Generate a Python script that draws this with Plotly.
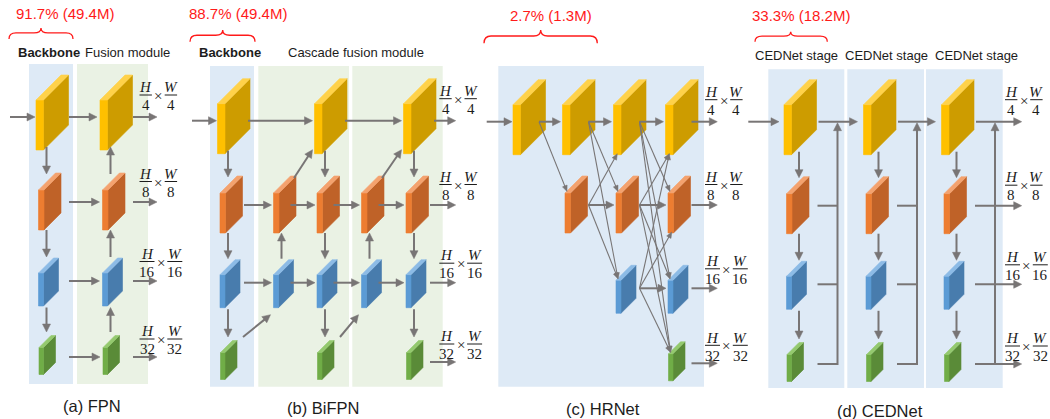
import math
import plotly.graph_objects as go

# ---------------- data ----------------
panel_captions = ["(a) FPN", "(b) BiFPN", "(c) HRNet", "(d) CEDNet"]
param_share = [91.7, 88.7, 2.7, 33.3]          # % of parameters
param_millions = [49.4, 49.4, 1.3, 18.2]       # parameters (M)
scale_denoms = [4, 8, 16, 32]                  # H/k x W/k
fpn_columns = [[0, 1, 2, 3], [0, 1, 2, 3]]
bifpn_columns = [[0, 1, 2, 3], [1, 2], [0, 1, 2, 3], [1, 2], [0, 1, 2, 3]]
hrnet_columns = [[0], [0, 1], [0, 1, 2], [0, 1, 2, 3]]
cednet_columns = [[0, 1, 2, 3], [0, 1, 2, 3], [0, 1, 2, 3]]
fpn_titles = ["Backbone", "Fusion module"]
bifpn_titles = ["Backbone", "Cascade fusion module"]
cednet_titles = ["CEDNet stage", "CEDNet stage", "CEDNet stage"]

# ---------------- style / layout constants ----------------
W, H = 1050, 419
FRONT = ["#FFC000", "#ED7D31", "#5B9BD5", "#70AD47"]
SIDE = ["#CD9C00", "#BF6228", "#487CAD", "#5A8B38"]
TOP = ["#FFD24A", "#F4A26E", "#8CBBE6", "#94C96E"]
BLUE_BG = "#DEEAF6"
GREEN_BG = "#EAF2E4"
GRAY = "#787575"
TXT = "#1c1c1c"
RED = "#FF1A1A"
SANS = "Liberation Sans, Arial, sans-serif"
SERIF = "Liberation Serif, DejaVu Serif, serif"
FRAC_SIZE = 15

FW = [7.5, 5.5, 5, 4.5]
FH = [50, 40, 33, 27]
FD = [25, 17, 15, 12]
YOFF = [17, 12, 8, 9.5]
XOFF = [0, 2.5, 2.5, 3]
VTOP = [30, 28, 26.5]
VBOT = [28, 24, 25]
LBL_DY = [-22, -20.5, -19.5, -18]
STYLE = {"main": dict(w=2, L=8, B=8), "thin": dict(w=1.1, L=6, B=5)}

polys = {(lv, f): ([], []) for lv in range(4) for f in ("side", "front", "top")}
lines = {k: ([], []) for k in STYLE}
heads = {k: ([], []) for k in STYLE}
bars = ([], [])
shapes = []
annos = []


def front_x(c, lv):
    return c + XOFF[lv]


def right_x(c, lv):
    return c + XOFF[lv] + FW[lv] + FD[lv]


def top_y(r, lv):
    return r - YOFF[lv]


def bot_y(r, lv):
    return r - YOFF[lv] + FH[lv]


def add_slab(c, r, lv):
    x0, yt = front_x(c, lv), top_y(r, lv)
    fw, h, d = FW[lv], FH[lv], FD[lv]
    faces = {
        "front": [(x0, yt), (x0 + fw, yt), (x0 + fw, yt + h), (x0, yt + h)],
        "side": [(x0 + fw, yt), (x0 + fw + d, yt - d), (x0 + fw + d, yt + h - d), (x0 + fw, yt + h)],
        "top": [(x0, yt), (x0 + d, yt - d), (x0 + fw + d, yt - d), (x0 + fw, yt)],
    }
    for f, pts in faces.items():
        xs, ys = polys[(lv, f)]
        xs += [p[0] for p in pts] + [pts[0][0], None]
        ys += [p[1] for p in pts] + [pts[0][1], None]


def arrow(x0, y0, x1, y1, kind="main", head=True):
    st = STYLE[kind]
    dx, dy = x1 - x0, y1 - y0
    n = math.hypot(dx, dy)
    ux, uy = dx / n, dy / n
    L = st["L"] if head else 0
    bx, by = x1 - ux * L, y1 - uy * L
    lx, ly = lines[kind]
    ex, ey = (bx + ux * 1.0, by + uy * 1.0) if head else (x1, y1)
    lx += [x0, ex, None]
    ly += [y0, ey, None]
    if head:
        px, py = -uy, ux
        hb = st["B"] / 2
        hx, hy = heads[kind]
        hx += [x1, bx + px * hb, bx - px * hb, x1, None]
        hy += [y1, by + py * hb, by - py * hb, y1, None]


def vconn(x, rows, i, down=True):
    ya, yb = rows[i] + VTOP[i], rows[i + 1] - VBOT[i]
    if down:
        arrow(x, ya, x, yb)
    else:
        arrow(x, yb, x, ya)


def bg(x0, y0, x1, y1, color):
    shapes.append(dict(type="rect", xref="x", yref="y", x0=x0, y0=y0, x1=x1, y1=y1,
                       fillcolor=color, line=dict(width=0), layer="below"))


def txt(x, y, s, size, color=TXT, family=SANS):
    annos.append(dict(x=x, y=y, xref="x", yref="y", text=s, showarrow=False,
                      xanchor="center", yanchor="middle",
                      font=dict(size=size, color=color, family=family)))


def frac_label(x0, row, lv):
    k = scale_denoms[lv]
    w = 12.4 if k < 10 else 15
    bar = row + LBL_DY[lv]
    c1 = x0 + w / 2
    cx = x0 + w + 6.2
    x2 = x0 + w + 12.8
    c2 = x2 + w / 2
    for a, b in ((x0, x0 + w), (x2, x2 + w)):
        bars[0].extend([a, b, None])
        bars[1].extend([bar, bar, None])
    txt(c1, bar - 7.8, "<i>H</i>", FRAC_SIZE, family=SERIF)
    txt(c1, bar + 10.2, str(k), FRAC_SIZE, family=SERIF)
    txt(cx, bar + 1, "×", FRAC_SIZE, family=SERIF)
    txt(c2, bar - 7.8, "<i>W</i>", FRAC_SIZE, family=SERIF)
    txt(c2, bar + 10.2, str(k), FRAC_SIZE, family=SERIF)


def brace(x0, x1, xc, yp, ye):
    ym = yp + (ye - yp) * 0.45
    r = 7
    path = (f"M{x0},{ye} Q{x0},{ym} {x0 + r},{ym} L{xc - r},{ym} Q{xc},{ym} {xc},{yp} "
            f"Q{xc},{ym} {xc + r},{ym} L{x1 - r},{ym} Q{x1},{ym} {x1},{ye}")
    shapes.append(dict(type="path", xref="x", yref="y", path=path,
                       line=dict(color=RED, width=1.3)))


def header(i, xc, y, bx0, bx1, bxc, byp, bye):
    txt(xc, y, f"{param_share[i]}% ({param_millions[i]}M)", 15, RED)
    brace(bx0, bx1, bxc, byp, bye)


# ---------------- (a) FPN ----------------
rows = [117, 202, 281, 357]
cols = [36, 100]
bg(29, 64, 73, 384, BLUE_BG)
bg(77, 64, 148, 384, GREEN_BG)
for ci, lvls in enumerate(fpn_columns):
    for lv in lvls:
        add_slab(cols[ci], rows[lv], lv)
arrow(10, rows[0], front_x(cols[0], 0) - 1, rows[0])
for lv in fpn_columns[0]:
    t = cols[0] + 33
    if lv == 0:
        t = max(t, right_x(cols[0], 0) - 1)
    arrow(t, rows[lv], front_x(cols[1], lv) - 3, rows[lv])
    arrow(cols[1] + 33, rows[lv], 157, rows[lv])
    frac_label(139.5, rows[lv], lv)
for i in range(3):
    vconn(cols[0] + 10.5, rows, i, down=True)
    vconn(cols[1] + 10.5, rows, i, down=False)
header(0, 65, 13.3, 9, 73, 41, 28, 39)
txt(48.5, 52.7, f"<b>{fpn_titles[0]}</b>", 13)
txt(127.3, 52.7, fpn_titles[1], 13)
txt(92, 406, panel_captions[0], 16.5)

# ---------------- (b) BiFPN ----------------
rows = [120.7, 205, 282.7, 362]
cols = [217.5, 271, 314.5, 359, 403.5]
tails = [26.5, 19.5, 19, 19.5, 26.5]
bg(210, 66, 254, 386.7, BLUE_BG)
bg(258.3, 66, 349, 386.7, GREEN_BG)
bg(352.3, 66, 442.7, 386.7, GREEN_BG)
for ci, lvls in enumerate(bifpn_columns):
    for lv in lvls:
        add_slab(cols[ci], rows[lv], lv)


def b_tail(ci, lv):
    t = cols[ci] + tails[ci]
    if lv == 0:
        t = max(t, right_x(cols[ci], 0) - 2)
    return t


arrow(192, rows[0], front_x(cols[0], 0) - 1, rows[0])
for lv in range(4):
    present = [ci for ci, l in enumerate(bifpn_columns) if lv in l]
    if lv == 3:
        present = [present[-1]]
    for a, b in zip(present[:-1], present[1:]):
        arrow(b_tail(a, lv), rows[lv], front_x(cols[b], lv) - 2, rows[lv])
    arrow(b_tail(present[-1], lv), rows[lv], 455.7, rows[lv])
    frac_label(439.3, rows[lv], lv)
for ci, lvls in enumerate(bifpn_columns):
    x = cols[ci] + 10.5
    if len(lvls) == 4:
        for i in range(3):
            vconn(x, rows, i, down=True)
    else:
        vconn(x, rows, 1, down=False)
for a in (1, 3):   # orange -> next yellow
    sx = right_x(cols[a], 1) - 2
    sy = top_y(rows[1], 1) - FD[1] + 2
    arrow(sx, sy, front_x(cols[a + 1], 0) - 2, bot_y(rows[0], 0) - 4)
for a in (0, 2):   # green -> next blue
    sx = right_x(cols[a], 3) + 6
    sy = rows[3] - 25
    arrow(sx, sy, front_x(cols[a + 1], 2) - 3, bot_y(rows[2], 2) + 7)
header(1, 237.8, 13.3, 190, 255, 222.7, 30, 41.7)
txt(229.5, 52.7, f"<b>{bifpn_titles[0]}</b>", 13)
txt(356.3, 52.7, bifpn_titles[1], 13)
txt(322.5, 408.3, panel_captions[1], 16.5)

# ---------------- (c) HRNet ----------------
rows = [121.7, 205, 288.3, 363.3]
cols = [513, 562.5, 613.5, 665.5]
bg(498.3, 66, 704, 386.7, BLUE_BG)
for ci, lvls in enumerate(hrnet_columns):
    for lv in lvls:
        add_slab(cols[ci], rows[lv], lv)
arrow(486.7, rows[0], front_x(cols[0], 0) - 1, rows[0])
for ci in range(len(hrnet_columns) - 1):
    t = cols[ci] + 26
    for s in hrnet_columns[ci]:
        for d in hrnet_columns[ci + 1]:
            if s == d:
                arrow(t, rows[s], front_x(cols[ci + 1], d) - 2, rows[s])
            elif d > s:
                arrow(t, rows[s], front_x(cols[ci + 1], d) + 2, top_y(rows[d], d) - 1.5, kind="thin")
            else:
                arrow(t, rows[s], front_x(cols[ci + 1], d) + 3.8, bot_y(rows[d], d) - 1, kind="thin")
for lv in hrnet_columns[-1]:
    arrow(cols[-1] + 26, rows[lv], 717.3, rows[lv])
    frac_label(705, rows[lv], lv)
header(2, 550.5, 15, 484, 597.3, 540.7, 30, 43.3)
txt(602.5, 409.3, panel_captions[2], 16.5)

# ---------------- (d) CEDNet ----------------
rows = [121.7, 205.7, 284.3, 364]
cols = [784, 863.5, 941.5]
title_x = [796, 886.7, 976.7]
for x0, x1 in ((768.3, 844.3), (847.3, 924), (926, 1002.7)):
    bg(x0, 69.3, x1, 388, BLUE_BG)
for ci, lvls in enumerate(cednet_columns):
    for lv in lvls:
        add_slab(cols[ci], rows[lv], lv)
arrow(748.3, rows[0], front_x(cols[0], 0) - 5, rows[0])
for ci, lvls in enumerate(cednet_columns):
    c = cols[ci]
    for i in range(3):
        vconn(c + 15, rows, i, down=True)
    t = c + 33.5
    ty = max(t, right_x(c, 0) + 2)
    bus = c + 53.5
    last = ci == len(cednet_columns) - 1
    if not last:
        arrow(ty, rows[0], front_x(cols[ci + 1], 0) - 6, rows[0])
        for lv in (1, 2, 3):
            arrow(t, rows[lv], bus, rows[lv], head=False)
    else:
        arrow(ty, rows[0], 1021.7, rows[0])
        for lv in (1, 2, 3):
            arrow(t, rows[lv], 1021.7, rows[lv])
    arrow(bus, rows[3] + 1, bus, rows[0] + 1)
    txt(title_x[ci], 55, cednet_titles[ci], 13)
for lv in range(4):
    frac_label(1005, rows[lv], lv)
header(3, 801, 15, 755, 827.3, 790.7, 31.7, 41.7)
txt(880, 410.7, panel_captions[3], 16.5)

# ---------------- figure ----------------
fig = go.Figure()
for lv in range(4):
    for face, pal in (("side", SIDE), ("front", FRONT), ("top", TOP)):
        xs, ys = polys[(lv, face)]
        fig.add_trace(go.Scatter(x=xs, y=ys, mode="lines", fill="toself",
                                 fillcolor=pal[lv], line=dict(width=0.6, color=pal[lv]),
                                 hoverinfo="skip", showlegend=False))
for k, st in STYLE.items():
    lx, ly = lines[k]
    fig.add_trace(go.Scatter(x=lx, y=ly, mode="lines", line=dict(width=st["w"], color=GRAY),
                             hoverinfo="skip", showlegend=False))
    hx, hy = heads[k]
    if hx:
        fig.add_trace(go.Scatter(x=hx, y=hy, mode="lines", fill="toself", fillcolor=GRAY,
                                 line=dict(width=0.5, color=GRAY), hoverinfo="skip", showlegend=False))
fig.add_trace(go.Scatter(x=bars[0], y=bars[1], mode="lines", line=dict(width=1, color=TXT),
                         hoverinfo="skip", showlegend=False))

fig.update_layout(width=W, height=H, margin=dict(l=0, r=0, t=0, b=0),
                  paper_bgcolor="white", plot_bgcolor="white",
                  shapes=shapes, annotations=annos, showlegend=False)
fig.update_xaxes(range=[0, W], visible=False, fixedrange=True)
fig.update_yaxes(range=[H, 0], visible=False, fixedrange=True)
fig.write_html("out.html", config={"displayModeBar": False},
               post_script="document.body.style.margin='0';document.body.style.overflow='hidden';")
